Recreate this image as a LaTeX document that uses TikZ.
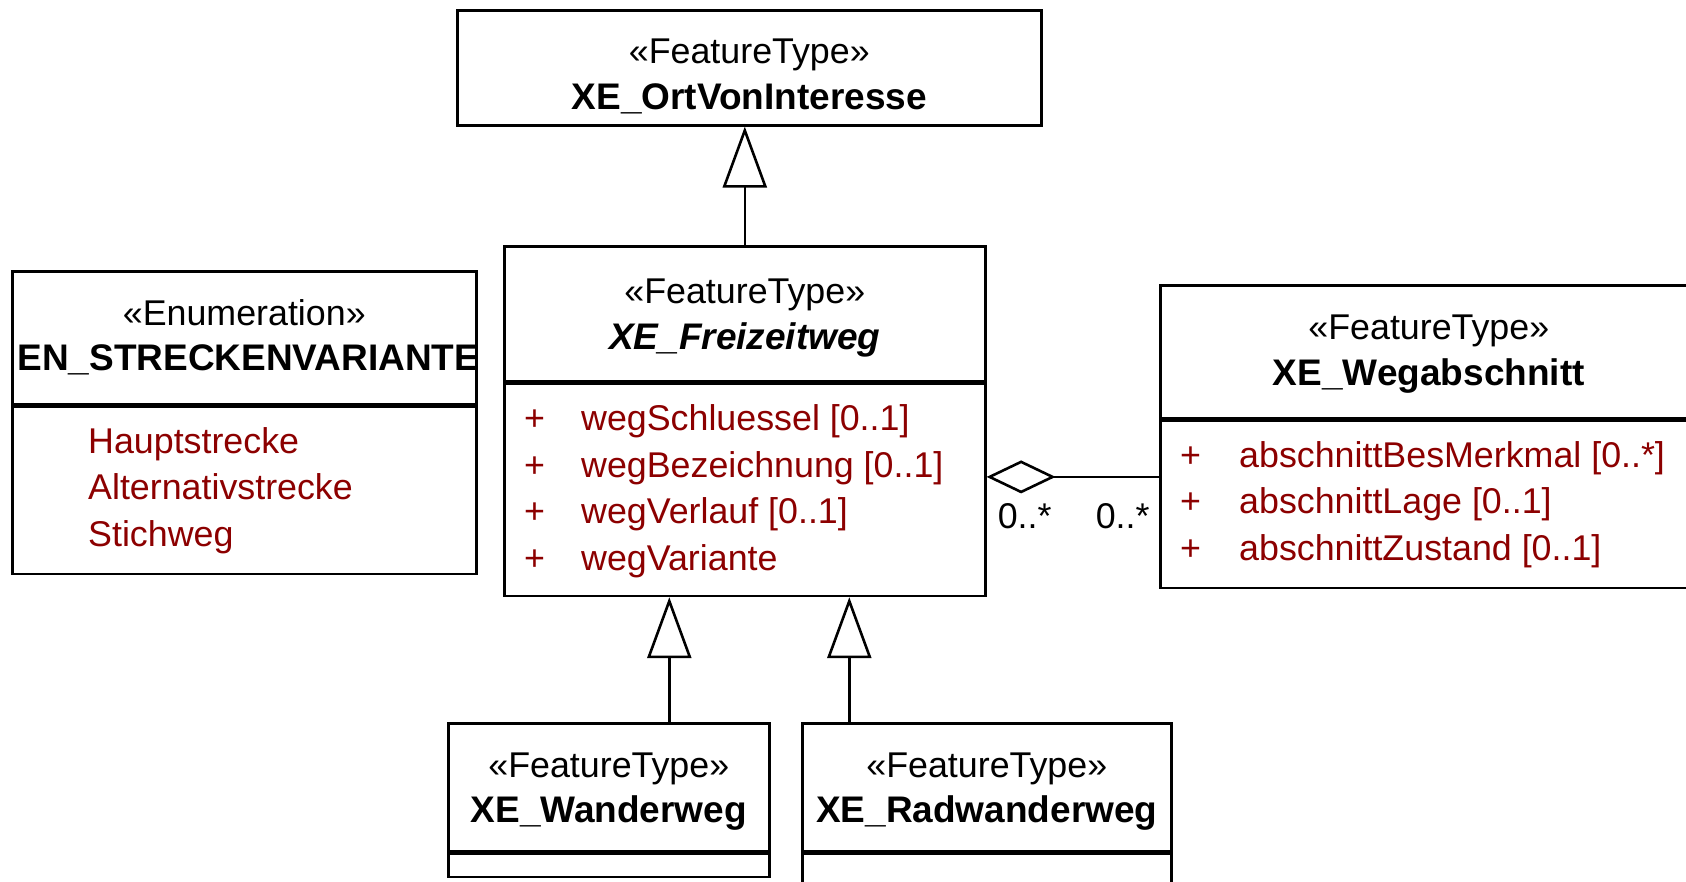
\documentclass[tikz,border=0pt]{standalone}
\usepackage{fontspec}
\setmainfont{Liberation Sans}
\usepackage{xcolor}
\usepackage{tikz}
\usetikzlibrary{arrows.meta, positioning, calc}
\definecolor{attrred}{RGB}{140, 0, 0}
\newcommand{\umlfont}{\fontsize{35.8}{42}\selectfont}
\newcommand{\umlbold}{\fontsize{37}{42}\selectfont\bfseries}

\begin{document}
\begin{tikzpicture}[x=1pt, y=-1pt, every node/.style={font=\umlfont, inner sep=0pt}]
  % Styles
  \tikzstyle{classbox} = [rectangle, draw=black, line width=2.6pt, anchor=north west]
  \tikzstyle{stereo} = [anchor=base]
  \tikzstyle{cname} = [anchor=base, font=\umlbold]
  \tikzstyle{attr} = [anchor=base west, text=attrred]
  \tikzstyle{gen} = [line width=2.6pt, -{Triangle[open, length=61pt, width=44pt]}]
  \tikzstyle{agg} = [line width=2.6pt, -{Diamond[open, length=69pt, width=33pt]}]

  \useasboundingbox (0,0) rectangle (1686,881);
  \clip (0,0) rectangle (1686,881);

  % Superclass
  \node (ort) [classbox, minimum width=584pt, minimum height=115pt] at (456,9) {};
  \node (ort-st) [stereo] at ([yshift=-54pt]ort.north) {«FeatureType»};
  \node (ort-nm) [cname] at ([yshift=-100pt]ort.north) {XE\_OrtVonInteresse};

  % Freizeitweg
  \node (frei) [classbox, minimum width=481pt, minimum height=135pt] at (503,245) {};
  \node (frei-attr) [classbox, minimum width=481pt, minimum height=212pt] at (frei.south west) {};
  \node (frei-st) [stereo] at ([yshift=-58pt]frei.north) {«FeatureType»};
  \node (frei-nm) [cname, font=\umlbold\itshape] at ([yshift=-104pt]frei.north) {XE\_Freizeitweg};
  \foreach \a [count=\i] in {{wegSchluessel [0..1]}, {wegBezeichnung [0..1]}, {wegVerlauf [0..1]}, {wegVariante}} {
    \node (frei-p\i) [attr] at ([xshift=21pt, yshift={-48pt-46.5pt*(\i-1)}]frei-attr.north west) {+};
    \node (frei-a\i) [attr] at ([xshift=78pt, yshift={-48pt-46.5pt*(\i-1)}]frei-attr.north west) {\a};
  }

  % Enumeration
  \node (enum) [classbox, minimum width=464pt, minimum height=133pt] at (11,270) {};
  \node (enum-lit) [classbox, minimum width=464pt, minimum height=167pt] at (enum.south west) {};
  \node (enum-st) [stereo] at ([yshift=-55.5pt]enum.north) {«Enumeration»};
  \node (enum-nm) [cname] at ([yshift=-100.5pt, xshift=4pt]enum.north) {EN\_STRECKENVARIANTE};
  \foreach \a [count=\i] in {Hauptstrecke, Alternativstrecke, Stichweg} {
    \node (enum-l\i) [attr] at ([xshift=77pt, yshift={-48pt-46.3pt*(\i-1)}]enum-lit.north west) {\a};
  }

  % Wegabschnitt
  \node (wegab) [classbox, minimum width=537pt, minimum height=133pt] at (1159,284) {};
  \node (wegab-attr) [classbox, minimum width=537pt, minimum height=167pt] at (wegab.south west) {};
  \node (wegab-st) [stereo] at ([yshift=-55.5pt]wegab.north) {«FeatureType»};
  \node (wegab-nm) [cname] at ([yshift=-101.5pt]wegab.north) {XE\_Wegabschnitt};
  \foreach \a [count=\i] in {{abschnittBesMerkmal [0..*]}, {abschnittLage [0..1]}, {abschnittZustand [0..1]}} {
    \node (wegab-p\i) [attr] at ([xshift=21pt, yshift={-48pt-46.3pt*(\i-1)}]wegab-attr.north west) {+};
    \node (wegab-a\i) [attr] at ([xshift=80pt, yshift={-48pt-46.3pt*(\i-1)}]wegab-attr.north west) {\a};
  }

  % Subclasses
  \node (wand) [classbox, minimum width=321pt, minimum height=128pt] at (447,722) {};
  \node (wand-attr) [classbox, minimum width=321pt, minimum height=23pt] at (wand.south west) {};
  \node (wand-st) [stereo] at ([yshift=-55pt]wand.north) {«FeatureType»};
  \node (wand-nm) [cname] at ([yshift=-100pt]wand.north) {XE\_Wanderweg};

  \node (rad) [classbox, minimum width=369pt, minimum height=128pt] at (801,722) {};
  \node (rad-attr) [classbox, minimum width=369pt, minimum height=60pt] at (rad.south west) {};
  \node (rad-st) [stereo] at ([yshift=-55pt]rad.north) {«FeatureType»};
  \node (rad-nm) [cname] at ([yshift=-100pt]rad.north) {XE\_Radwanderweg};

  % Generalizations
  \draw [gen] (frei.north) -- (frei.north |- ort.south);
  \draw [gen] ([xshift=60.5pt]wand.north) -- ([xshift=60.5pt]wand.north |- frei-attr.south);
  \draw [gen] ([xshift=-137.5pt]rad.north) -- ([xshift=-137.5pt]rad.north |- frei-attr.south);

  % Aggregation
  \draw [agg] ([yshift=13pt]frei-attr.east -| wegab-attr.west) -- ([yshift=13pt]frei-attr.east);
  \node (mult-l) [anchor=base west] at ([xshift=11pt, yshift=-39pt]frei-attr.east) {0..*};
  \node (mult-r) [anchor=base west] at ([xshift=98pt]mult-l.base west) {0..*};
\end{tikzpicture}
\end{document}
